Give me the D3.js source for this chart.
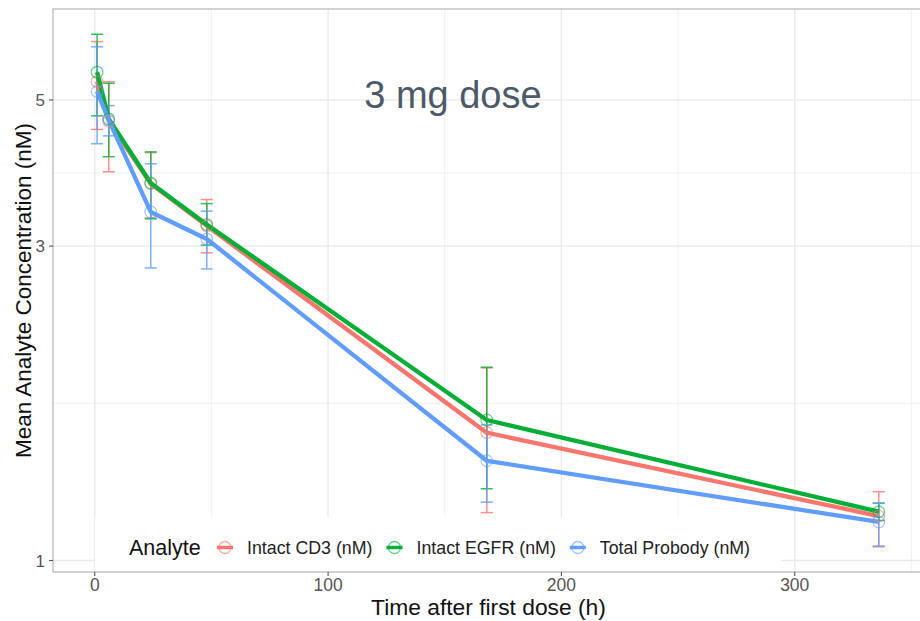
<!DOCTYPE html>
<html><head><meta charset="utf-8">
<script src="https://cdn.jsdelivr.net/npm/d3@7"></script>
<style>html,body{margin:0;padding:0;background:#fff;}svg{display:block;font-family:"Liberation Sans",Arial,sans-serif;}</style>
</head><body>
<svg id="chart" width="920" height="621"></svg>
<script>
// ---- data ----
const times = [1, 6, 24, 48, 168, 336];
const seriesNames = ["Intact CD3 (nM)", "Intact EGFR (nM)", "Total Probody (nM)"];
const seriesColors = ["#F8766D", "#05AE36", "#619CFF"];
const cd3Mean  = [5.33, 4.64, 3.73, 3.22, 1.563, 1.168];
const cd3Low   = [4.51, 3.89, 3.31, 2.93, 1.182, 1.049];
const cd3High  = [6.13, 5.33, 4.16, 3.53, 1.96, 1.272];
const egfrMean = [5.51, 4.68, 3.74, 3.236, 1.634, 1.186];
const egfrLow  = [4.73, 4.10, 3.30, 3.01, 1.285, 1.15];
const egfrHigh = [6.29, 5.30, 4.17, 3.48, 1.965, 1.222];
const totMean  = [5.15, 4.66, 3.38, 3.076, 1.417, 1.144];
const totLow   = [4.29, 4.41, 2.78, 2.77, 1.226, 1.052];
const totHigh  = [6.02, 4.90, 4.00, 3.39, 1.606, 1.221];
const xTicks = [0, 100, 200, 300];
const xMinor = [50, 150, 250, 350];
const yTicks = [1, 3, 5];
const yMinor = [Math.sqrt(3), Math.sqrt(15)];
const titleText = "3 mg dose";
const xTitle = "Time after first dose (h)";
const yTitle = "Mean Analyte Concentration (nM)";
const legendTitle = "Analyte";

const series = [
  {name: seriesNames[0], color: seriesColors[0], mean: cd3Mean, low: cd3Low, high: cd3High},
  {name: seriesNames[1], color: seriesColors[1], mean: egfrMean, low: egfrLow, high: egfrHigh},
  {name: seriesNames[2], color: seriesColors[2], mean: totMean, low: totLow, high: totHigh}
];

// ---- layout ----
const P = {left: 53, top: 9, right: 924, bottom: 572};
const svg = d3.select("#chart");
const x = d3.scaleLinear().domain([-17.9, 355.4]).range([P.left, P.right]);
const y = d3.scaleLog().domain([0.9606, 6.87]).range([P.bottom, P.top]);

svg.append("rect").attr("x",0).attr("y",0).attr("width",920).attr("height",621).attr("fill","#fff");

// grid
const g = svg.append("g");
g.selectAll(".ymin").data(yMinor).enter().append("line")
  .attr("x1",P.left).attr("x2",P.right).attr("y1",d=>y(d)).attr("y2",d=>y(d))
  .attr("stroke","#f1f1f1").attr("stroke-width",1);
g.selectAll(".xmin").data(xMinor).enter().append("line")
  .attr("y1",P.top).attr("y2",P.bottom).attr("x1",d=>x(d)).attr("x2",d=>x(d))
  .attr("stroke","#f1f1f1").attr("stroke-width",1);
g.selectAll(".ymaj").data(yTicks).enter().append("line")
  .attr("x1",P.left).attr("x2",P.right).attr("y1",d=>y(d)).attr("y2",d=>y(d))
  .attr("stroke","#e8e8e8").attr("stroke-width",1.3);
g.selectAll(".xmaj").data(xTicks).enter().append("line")
  .attr("y1",P.top).attr("y2",P.bottom).attr("x1",d=>x(d)).attr("x2",d=>x(d))
  .attr("stroke","#e8e8e8").attr("stroke-width",1.3);

// title annotation
svg.append("text").attr("x", x(153.5)).attr("y", y(5) + 8)
  .attr("text-anchor","middle").attr("font-size",38).attr("fill","#4b5968").text(titleText);

// legend background (inside panel, at bottom)
svg.append("rect").attr("x", 95).attr("y", 517).attr("width", 686).attr("height", P.bottom - 517).attr("fill","#fff");

// error bars
const capW = 6;
series.forEach(s => {
  const eg = svg.append("g").attr("stroke", s.color).attr("stroke-width",1.5).attr("opacity",0.8);
  times.forEach((t,i) => {
    const cx = x(t);
    eg.append("line").attr("x1",cx).attr("x2",cx).attr("y1",y(s.low[i])).attr("y2",y(s.high[i]));
    eg.append("line").attr("x1",cx-capW).attr("x2",cx+capW).attr("y1",y(s.low[i])).attr("y2",y(s.low[i]));
    eg.append("line").attr("x1",cx-capW).attr("x2",cx+capW).attr("y1",y(s.high[i])).attr("y2",y(s.high[i]));
  });
});

// lines
const line = d3.line().x(d=>x(d[0])).y(d=>y(d[1]));
series.forEach(s => {
  svg.append("path").datum(times.map((t,i)=>[t, s.mean[i]]))
    .attr("d", line).attr("fill","none").attr("stroke", s.color)
    .attr("stroke-width", 4.3).attr("stroke-linejoin","round").attr("stroke-linecap","butt");
});

// points
series.forEach(s => {
  svg.append("g").selectAll("circle").data(times.map((t,i)=>[t, s.mean[i]])).enter().append("circle")
    .attr("cx", d=>x(d[0])).attr("cy", d=>y(d[1])).attr("r", 5.8)
    .attr("fill","none").attr("stroke", s.color).attr("stroke-width",1.2).attr("opacity",0.6);
});

// panel border
svg.append("rect").attr("x",P.left).attr("y",P.top).attr("width",P.right-P.left).attr("height",P.bottom-P.top)
  .attr("fill","none").attr("stroke","#b3b3b3").attr("stroke-width",1.2);

// axes ticks + labels
const xa = svg.append("g");
xTicks.forEach(t => {
  xa.append("line").attr("x1",x(t)).attr("x2",x(t)).attr("y1",P.bottom).attr("y2",P.bottom+4).attr("stroke","#555").attr("stroke-width",1.1);
  xa.append("text").attr("x",x(t)).attr("y",590.5).attr("text-anchor","middle").attr("font-size",17.5).attr("fill","#555").text(d3.format("d")(t));
});
const ya = svg.append("g");
yTicks.forEach(t => {
  ya.append("line").attr("x1",P.left-4).attr("x2",P.left).attr("y1",y(t)).attr("y2",y(t)).attr("stroke","#555").attr("stroke-width",1.1);
  ya.append("text").attr("x",P.left-8).attr("y",y(t)).attr("dy","0.36em").attr("text-anchor","end").attr("font-size",17).attr("fill","#555").text(t);
});

// axis titles
svg.append("text").attr("x", (P.left+P.right)/2).attr("y", 614.5).attr("text-anchor","middle")
  .attr("font-size",22.8).attr("fill","#111").text(xTitle);
svg.append("text").attr("transform", `translate(31,${(P.top+P.bottom)/2}) rotate(-90)`).attr("text-anchor","middle")
  .attr("font-size",22.5).attr("fill","#111").text(yTitle);

// legend
const lg = svg.append("g");
lg.append("text").attr("x",129).attr("y",555).attr("font-size",21.5).attr("fill","#111").text(legendTitle);
let cx = 225;
series.forEach(s => {
  const k = lg.append("g").attr("transform",`translate(${cx},547.5)`);
  k.append("line").attr("x1",-8).attr("x2",8).attr("y1",0).attr("y2",0).attr("stroke",s.color).attr("stroke-width",3.5);
  k.append("circle").attr("r",6).attr("fill","none").attr("stroke",s.color).attr("stroke-width",1.3).attr("opacity",0.6);
  const t = lg.append("text").attr("x",cx+22).attr("y",554).attr("font-size",17.8).attr("fill","#222").text(s.name);
  cx = cx + 22 + t.node().getComputedTextLength() + 22;
});
</script>
</body></html>
